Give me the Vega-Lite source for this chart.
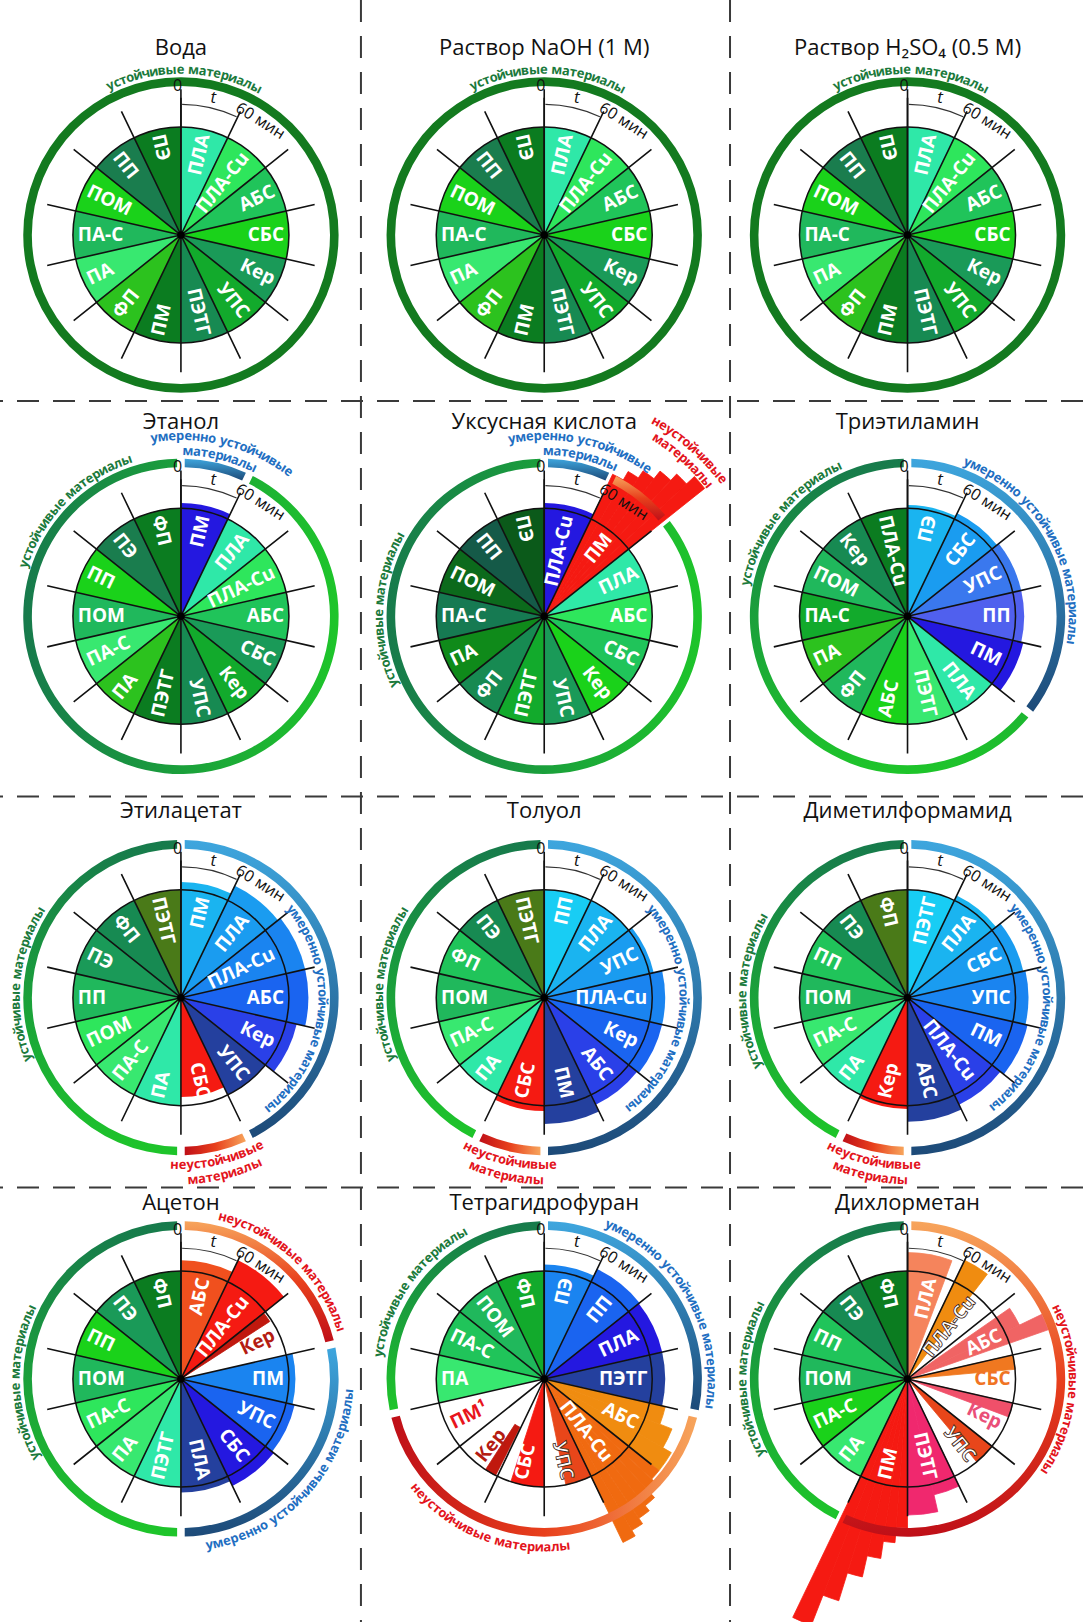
{
"$schema":"https://vega.github.io/schema/vega-lite/v6.json",
"width":1083,"height":1622,"autosize":{"type":"none"},"padding":0,"background":"#ffffff",
"config":{"view":{"stroke":null},"font":"Open Sans"},
"datasets":{
"panels":[
{"p":1,"name":"Вода","col":0,"row":0},
{"p":2,"name":"Раствор NaOH (1 M)","col":1,"row":0},
{"p":3,"name":"Раствор H₂SO₄ (0.5 M)","col":2,"row":0},
{"p":4,"name":"Этанол","col":0,"row":1},
{"p":5,"name":"Уксусная кислота","col":1,"row":1},
{"p":6,"name":"Триэтиламин","col":2,"row":1},
{"p":7,"name":"Этилацетат","col":0,"row":2},
{"p":8,"name":"Толуол","col":1,"row":2},
{"p":9,"name":"Диметилформамид","col":2,"row":2},
{"p":10,"name":"Ацетон","col":0,"row":3},
{"p":11,"name":"Тетрагидрофуран","col":1,"row":3},
{"p":12,"name":"Дихлорметан","col":2,"row":3}],
"seps":[{"d":"v","col":0.4955},{"d":"v","col":1.5114},{"d":"h","row":0.4353},{"d":"h","row":1.4725},{"d":"h","row":2.4978}],
"S":[
{"p":1,"i":0,"m":"ПЛА","c":"aq","r":1},{"p":1,"i":1,"m":"ПЛА-Cu","c":"lg","r":1},{"p":1,"i":2,"m":"АБС","c":"mg","r":1},{"p":1,"i":3,"m":"СБС","c":"pg","r":1},{"p":1,"i":4,"m":"Кер","c":"tg","r":1},{"p":1,"i":5,"m":"УПС","c":"gg","r":1},{"p":1,"i":6,"m":"ПЭТГ","c":"tk","r":1},{"p":1,"i":7,"m":"ПМ","c":"dg","r":1},{"p":1,"i":8,"m":"ФП","c":"lm","r":1},{"p":1,"i":9,"m":"ПА","c":"lt","r":1},{"p":1,"i":10,"m":"ПА-С","c":"pc","r":1},{"p":1,"i":11,"m":"ПОМ","c":"pg","r":1},{"p":1,"i":12,"m":"ПП","c":"dt","r":1},{"p":1,"i":13,"m":"ПЭ","c":"dg","r":1},
{"p":2,"i":0,"m":"ПЛА","c":"aq","r":1},{"p":2,"i":1,"m":"ПЛА-Cu","c":"lg","r":1},{"p":2,"i":2,"m":"АБС","c":"mg","r":1},{"p":2,"i":3,"m":"СБС","c":"pg","r":1},{"p":2,"i":4,"m":"Кер","c":"tg","r":1},{"p":2,"i":5,"m":"УПС","c":"gg","r":1},{"p":2,"i":6,"m":"ПЭТГ","c":"tk","r":1},{"p":2,"i":7,"m":"ПМ","c":"dg","r":1},{"p":2,"i":8,"m":"ФП","c":"lm","r":1},{"p":2,"i":9,"m":"ПА","c":"lt","r":1},{"p":2,"i":10,"m":"ПА-С","c":"pc","r":1},{"p":2,"i":11,"m":"ПОМ","c":"pg","r":1},{"p":2,"i":12,"m":"ПП","c":"dt","r":1},{"p":2,"i":13,"m":"ПЭ","c":"dg","r":1},
{"p":3,"i":0,"m":"ПЛА","c":"aq","r":1},{"p":3,"i":1,"m":"ПЛА-Cu","c":"lg","r":1},{"p":3,"i":2,"m":"АБС","c":"mg","r":1},{"p":3,"i":3,"m":"СБС","c":"pg","r":1},{"p":3,"i":4,"m":"Кер","c":"tg","r":1},{"p":3,"i":5,"m":"УПС","c":"gg","r":1},{"p":3,"i":6,"m":"ПЭТГ","c":"tk","r":1},{"p":3,"i":7,"m":"ПМ","c":"dg","r":1},{"p":3,"i":8,"m":"ФП","c":"lm","r":1},{"p":3,"i":9,"m":"ПА","c":"lt","r":1},{"p":3,"i":10,"m":"ПА-С","c":"pc","r":1},{"p":3,"i":11,"m":"ПОМ","c":"pg","r":1},{"p":3,"i":12,"m":"ПП","c":"dt","r":1},{"p":3,"i":13,"m":"ПЭ","c":"dg","r":1},
{"p":4,"i":0,"m":"ПМ","c":"b8","r":1.05},{"p":4,"i":1,"m":"ПЛА","c":"aq","r":1},{"p":4,"i":2,"m":"ПЛА-Cu","c":"lg","r":1},{"p":4,"i":3,"m":"АБС","c":"mg","r":1},{"p":4,"i":4,"m":"СБС","c":"tg","r":1},{"p":4,"i":5,"m":"Кер","c":"gg","r":1},{"p":4,"i":6,"m":"УПС","c":"tk","r":1},{"p":4,"i":7,"m":"ПЭТГ","c":"dg","r":1},{"p":4,"i":8,"m":"ПА","c":"lm","r":1},{"p":4,"i":9,"m":"ПА-С","c":"lt","r":1},{"p":4,"i":10,"m":"ПОМ","c":"pc","r":1},{"p":4,"i":11,"m":"ПП","c":"pg","r":1},{"p":4,"i":12,"m":"ПЭ","c":"dt","r":1},{"p":4,"i":13,"m":"ФП","c":"dg","r":1},
{"p":5,"i":0,"m":"ПЛА-Cu","c":"b8","r":1.05},{"p":5,"i":1,"m":"ПМ","c":"r1","r":0},{"p":5,"i":2,"m":"ПЛА","c":"aq","r":1},{"p":5,"i":3,"m":"АБС","c":"lg","r":1},{"p":5,"i":4,"m":"СБС","c":"mg","r":1},{"p":5,"i":5,"m":"Кер","c":"pg","r":1},{"p":5,"i":6,"m":"УПС","c":"tg","r":1},{"p":5,"i":7,"m":"ПЭТГ","c":"gg","r":1},{"p":5,"i":8,"m":"ФП","c":"tk","r":1},{"p":5,"i":9,"m":"ПА","c":"u1","r":1},{"p":5,"i":10,"m":"ПА-С","c":"u2","r":1},{"p":5,"i":11,"m":"ПОМ","c":"u3","r":1},{"p":5,"i":12,"m":"ПП","c":"u4","r":1},{"p":5,"i":13,"m":"ПЭ","c":"u5","r":1},
{"p":6,"i":0,"m":"ПЭ","c":"b2","r":1.03},{"p":6,"i":1,"m":"СБС","c":"b3","r":1.06},{"p":6,"i":2,"m":"УПС","c":"b9","r":1.08},{"p":6,"i":3,"m":"ПП","c":"b10","r":1.08},{"p":6,"i":4,"m":"ПМ","c":"b8","r":1.1},{"p":6,"i":5,"m":"ПЛА","c":"aq","r":1},{"p":6,"i":6,"m":"ПЭТГ","c":"lt","r":1},{"p":6,"i":7,"m":"АБС","c":"pg","r":1},{"p":6,"i":8,"m":"ФП","c":"pc","r":1},{"p":6,"i":9,"m":"ПА","c":"lm","r":1},{"p":6,"i":10,"m":"ПА-С","c":"gg","r":1},{"p":6,"i":11,"m":"ПОМ","c":"pc","r":1},{"p":6,"i":12,"m":"Кер","c":"tk","r":1},{"p":6,"i":13,"m":"ПЛА-Cu","c":"dg","r":1},
{"p":7,"i":0,"m":"ПМ","c":"b2","r":1.07},{"p":7,"i":1,"m":"ПЛА","c":"b3","r":1.15},{"p":7,"i":2,"m":"ПЛА-Cu","c":"b4","r":1.18},{"p":7,"i":3,"m":"АБС","c":"b5","r":1.18},{"p":7,"i":4,"m":"Кер","c":"b6","r":1.1},{"p":7,"i":5,"m":"УПС","c":"b7","r":1.0},{"p":7,"i":6,"m":"СБС","c":"r1","r":0.92},{"p":7,"i":7,"m":"ПА","c":"aq","r":1},{"p":7,"i":8,"m":"ПА-С","c":"lt","r":1},{"p":7,"i":9,"m":"ПОМ","c":"lg","r":1},{"p":7,"i":10,"m":"ПП","c":"pc","r":1},{"p":7,"i":11,"m":"ПЭ","c":"tg","r":1},{"p":7,"i":12,"m":"ФП","c":"tk","r":1},{"p":7,"i":13,"m":"ПЭТГ","c":"ol","r":1},
{"p":8,"i":0,"m":"ПП","c":"b1","r":1.0},{"p":8,"i":1,"m":"ПЛА","c":"b2","r":1.0},{"p":8,"i":2,"m":"УПС","c":"b3","r":1.04},{"p":8,"i":3,"m":"ПЛА-Cu","c":"b4","r":1.12},{"p":8,"i":4,"m":"Кер","c":"b5","r":1.12},{"p":8,"i":5,"m":"АБС","c":"b6","r":1.1},{"p":8,"i":6,"m":"ПМ","c":"b7","r":1.17},{"p":8,"i":7,"m":"СБС","c":"r1","r":1.05},{"p":8,"i":8,"m":"ПА","c":"aq","r":1},{"p":8,"i":9,"m":"ПА-С","c":"lt","r":1},{"p":8,"i":10,"m":"ПОМ","c":"pc","r":1},{"p":8,"i":11,"m":"ФП","c":"mg","r":1},{"p":8,"i":12,"m":"ПЭ","c":"tk","r":1},{"p":8,"i":13,"m":"ПЭТГ","c":"ol","r":1},
{"p":9,"i":0,"m":"ПЭТГ","c":"b1","r":1.0},{"p":9,"i":1,"m":"ПЛА","c":"b2","r":1.05},{"p":9,"i":2,"m":"СБС","c":"b3","r":1.1},{"p":9,"i":3,"m":"УПС","c":"b4","r":1.12},{"p":9,"i":4,"m":"ПМ","c":"b5","r":1.14},{"p":9,"i":5,"m":"ПЛА-Cu","c":"b6","r":1.1},{"p":9,"i":6,"m":"АБС","c":"b7","r":1.15},{"p":9,"i":7,"m":"Кер","c":"r1","r":1.03},{"p":9,"i":8,"m":"ПА","c":"aq","r":1},{"p":9,"i":9,"m":"ПА-С","c":"lt","r":1},{"p":9,"i":10,"m":"ПОМ","c":"pc","r":1},{"p":9,"i":11,"m":"ПП","c":"mg","r":1},{"p":9,"i":12,"m":"ПЭ","c":"tk","r":1},{"p":9,"i":13,"m":"ФП","c":"ol","r":1},
{"p":10,"i":0,"m":"АБС","c":"o1","r":1.1},{"p":10,"i":1,"m":"ПЛА-Cu","c":"r1","r":1.22},{"p":10,"i":2,"m":"Кер","c":"r3","r":0,"lc":"dr"},{"p":10,"i":3,"m":"ПМ","c":"b4","r":1.06},{"p":10,"i":4,"m":"УПС","c":"b5","r":1.08},{"p":10,"i":5,"m":"СБС","c":"b8","r":1.1},{"p":10,"i":6,"m":"ПЛА","c":"b7","r":1.05},{"p":10,"i":7,"m":"ПЭТГ","c":"aq","r":1},{"p":10,"i":8,"m":"ПА","c":"lt","r":1},{"p":10,"i":9,"m":"ПА-С","c":"lg","r":1},{"p":10,"i":10,"m":"ПОМ","c":"pc","r":1},{"p":10,"i":11,"m":"ПП","c":"pg","r":1},{"p":10,"i":12,"m":"ПЭ","c":"tg","r":1},{"p":10,"i":13,"m":"ФП","c":"dg","r":1},
{"p":11,"i":0,"m":"ПЭ","c":"b4","r":1.06},{"p":11,"i":1,"m":"ПП","c":"b5","r":1.13},{"p":11,"i":2,"m":"ПЛА","c":"b8","r":1.12},{"p":11,"i":3,"m":"ПЭТГ","c":"b7","r":1.12},{"p":11,"i":4,"m":"АБС","c":"o3","r":0},{"p":11,"i":5,"m":"ПЛА-Cu","c":"o4","r":0},{"p":11,"i":6,"m":"УПС","c":"o5","r":0,"lc":"ol"},{"p":11,"i":7,"m":"СБС","c":"r1","r":0},{"p":11,"i":8,"m":"Кер","c":"r3","r":0,"lc":"dr"},{"p":11,"i":9,"m":"ПМ¹","c":"r1","r":0,"lc":"r"},{"p":11,"i":10,"m":"ПА","c":"lt","r":1},{"p":11,"i":11,"m":"ПА-С","c":"mg","r":1},{"p":11,"i":12,"m":"ПОМ","c":"pc","r":1},{"p":11,"i":13,"m":"ФП","c":"gg","r":1},
{"p":12,"i":0,"m":"ПЛА","c":"sa","r":0},{"p":12,"i":1,"m":"ПЛА-Cu","c":"o3","r":0,"lc":"ol"},{"p":12,"i":2,"m":"АБС","c":"co","r":0},{"p":12,"i":3,"m":"СБС","c":"o6","r":0,"lc":"o"},{"p":12,"i":4,"m":"Кер","c":"pk","r":0,"lc":"pk"},{"p":12,"i":5,"m":"УПС","c":"o5","r":0,"lc":"ol"},{"p":12,"i":6,"m":"ПЭТГ","c":"mg2","r":0},{"p":12,"i":7,"m":"ПМ","c":"r1","r":0},{"p":12,"i":8,"m":"ПА","c":"lt","r":1},{"p":12,"i":9,"m":"ПА-С","c":"pg","r":1},{"p":12,"i":10,"m":"ПОМ","c":"pc","r":1},{"p":12,"i":11,"m":"ПП","c":"mg","r":1},{"p":12,"i":12,"m":"ПЭ","c":"tk","r":1},{"p":12,"i":13,"m":"ФП","c":"dg","r":1}],
"pieces":[
{"p":5,"a":1,"b":1.17,"r":1.46,"c":"r1"},{"p":5,"a":1.17,"b":1.33,"r":1.55,"c":"r1"},{"p":5,"a":1.33,"b":1.5,"r":1.63,"c":"r1"},{"p":5,"a":1.5,"b":1.67,"r":1.72,"c":"r1"},{"p":5,"a":1.67,"b":1.83,"r":1.8,"c":"r1"},{"p":5,"a":1.83,"b":2,"r":1.9,"c":"r1"},
{"p":10,"a":2,"b":2.22,"r":0.98,"c":"r3"},
{"p":11,"a":4,"b":4.33,"r":1.15,"c":"o3"},{"p":11,"a":4.33,"b":4.67,"r":1.27,"c":"o3"},{"p":11,"a":4.67,"b":5,"r":1.36,"c":"o3"},
{"p":11,"a":5,"b":5.17,"r":1.36,"c":"o4"},{"p":11,"a":5.17,"b":5.33,"r":1.43,"c":"o4"},{"p":11,"a":5.33,"b":5.5,"r":1.5,"c":"o4"},{"p":11,"a":5.5,"b":5.67,"r":1.56,"c":"o4"},{"p":11,"a":5.67,"b":5.83,"r":1.62,"c":"o4"},{"p":11,"a":5.83,"b":6,"r":1.68,"c":"o4"},
{"p":11,"a":6,"b":6.55,"r":1.0,"c":"o5"},{"p":11,"a":7,"b":7.7,"r":1.0,"c":"r1"},{"p":11,"a":8.04,"b":8.28,"r":1.0,"r0":0.5,"c":"r3"},
{"p":12,"a":0,"b":0.8,"r":1.17,"c":"sa"},{"p":12,"a":1,"b":1.45,"r":1.22,"c":"o3"},{"p":12,"a":2.15,"b":2.5,"r":1.15,"c":"co"},{"p":12,"a":2.5,"b":2.75,"r":1.38,"c":"co"},
{"p":12,"a":3,"b":3.3,"r":1.0,"c":"o6"},{"p":12,"a":4,"b":4.3,"r":1.0,"c":"pk"},{"p":12,"a":5,"b":5.45,"r":1.0,"c":"o5"},
{"p":12,"a":6,"b":6.5,"r":1.1,"c":"mg2"},{"p":12,"a":6.5,"b":7,"r":1.26,"c":"mg2"},
{"p":12,"a":7,"b":7.17,"r":1.38,"c":"r1"},{"p":12,"a":7.17,"b":7.33,"r":1.52,"c":"r1"},{"p":12,"a":7.33,"b":7.5,"r":1.68,"c":"r1"},{"p":12,"a":7.5,"b":7.67,"r":1.88,"c":"r1"},{"p":12,"a":7.67,"b":7.83,"r":2.15,"c":"r1"},{"p":12,"a":7.83,"b":8,"r":2.45,"c":"r1"}],
"rings":[
{"p":1,"a":0,"b":14,"g":"s0"},{"p":2,"a":0,"b":14,"g":"s0"},{"p":3,"a":0,"b":14,"g":"s0"},
{"p":4,"a":0,"b":1,"g":"m"},{"p":4,"a":1,"b":14,"g":"s"},
{"p":5,"a":0,"b":1,"g":"m"},{"p":5,"a":1,"b":2,"g":"u"},{"p":5,"a":2,"b":14,"g":"s"},
{"p":6,"a":0,"b":5,"g":"m"},{"p":6,"a":5,"b":14,"g":"s"},
{"p":7,"a":0,"b":6,"g":"m"},{"p":7,"a":6,"b":7,"g":"u"},{"p":7,"a":7,"b":14,"g":"s"},
{"p":8,"a":0,"b":7,"g":"m"},{"p":8,"a":7,"b":8,"g":"u"},{"p":8,"a":8,"b":14,"g":"s"},
{"p":9,"a":0,"b":7,"g":"m"},{"p":9,"a":7,"b":8,"g":"u"},{"p":9,"a":8,"b":14,"g":"s"},
{"p":10,"a":0,"b":3,"g":"u"},{"p":10,"a":3,"b":7,"g":"m"},{"p":10,"a":7,"b":14,"g":"s"},
{"p":11,"a":0,"b":4,"g":"m"},{"p":11,"a":4,"b":10,"g":"u"},{"p":11,"a":10,"b":14,"g":"s"},
{"p":12,"a":0,"b":8,"g":"u"},{"p":12,"a":8,"b":14,"g":"s"}],
"labs":[
{"p":1,"t":"устойчивые материалы","th":0.05,"r":1.53,"s":"cw","g":"s"},
{"p":2,"t":"устойчивые материалы","th":0.05,"r":1.53,"s":"cw","g":"s"},
{"p":3,"t":"устойчивые материалы","th":0.05,"r":1.53,"s":"cw","g":"s"},
{"p":4,"t":"устойчивые материалы","th":12.25,"r":1.53,"s":"cw","g":"s"},
{"p":4,"t":"умеренно устойчивые","th":0.55,"r":1.67,"s":"cw","g":"m"},
{"p":4,"t":"материалы","th":0.54,"r":1.53,"s":"cw","g":"m"},
{"p":5,"t":"устойчивые материалы","th":10.6,"r":1.53,"s":"cw","g":"s"},
{"p":5,"t":"умеренно устойчивые","th":0.48,"r":1.67,"s":"cw","g":"m"},
{"p":5,"t":"материалы","th":0.5,"r":1.53,"s":"cw","g":"m"},
{"p":5,"t":"неустойчивые","th":1.6,"r":2.08,"s":"cw","g":"u"},
{"p":5,"t":"материалы","th":1.62,"r":1.95,"s":"cw","g":"u"},
{"p":6,"t":"устойчивые материалы","th":12.0,"r":1.53,"s":"cw","g":"s"},
{"p":6,"t":"умеренно устойчивые материалы","th":2.33,"r":1.53,"s":"cw","g":"m"},
{"p":7,"t":"устойчивые материалы","th":10.7,"r":1.53,"s":"cw","g":"s"},
{"p":7,"t":"умеренно устойчивые материалы","th":3.75,"r":1.31,"s":"cw","g":"m"},
{"p":7,"t":"неустойчивые","th":6.5,"r":1.55,"s":"ccw","g":"u"},
{"p":7,"t":"материалы","th":6.45,"r":1.69,"s":"ccw","g":"u"},
{"p":8,"t":"устойчивые материалы","th":10.7,"r":1.53,"s":"cw","g":"s"},
{"p":8,"t":"умеренно устойчивые материалы","th":3.75,"r":1.29,"s":"cw","g":"m"},
{"p":8,"t":"неустойчивые","th":7.47,"r":1.55,"s":"ccw","g":"u"},
{"p":8,"t":"материалы","th":7.47,"r":1.69,"s":"ccw","g":"u"},
{"p":9,"t":"устойчивые материалы","th":10.6,"r":1.53,"s":"cw","g":"s"},
{"p":9,"t":"умеренно устойчивые материалы","th":3.73,"r":1.29,"s":"cw","g":"m"},
{"p":9,"t":"неустойчивые","th":7.46,"r":1.55,"s":"ccw","g":"u"},
{"p":9,"t":"материалы","th":7.46,"r":1.69,"s":"ccw","g":"u"},
{"p":10,"t":"устойчивые материалы","th":10.45,"r":1.53,"s":"cw","g":"s"},
{"p":10,"t":"неустойчивые материалы","th":1.68,"r":1.55,"s":"cw","g":"u"},
{"p":10,"t":"умеренно устойчивые материалы","th":5.15,"r":1.56,"s":"ccw","g":"m"},
{"p":11,"t":"устойчивые материалы","th":11.86,"r":1.55,"s":"cw","g":"s"},
{"p":11,"t":"умеренно устойчивые материалы","th":2.37,"r":1.55,"s":"cw","g":"m"},
{"p":11,"t":"неустойчивые материалы","th":7.82,"r":1.56,"s":"ccw","g":"u"},
{"p":12,"t":"устойчивые материалы","th":10.5,"r":1.53,"s":"cw","g":"s"},
{"p":12,"t":"неустойчивые материалы","th":3.66,"r":1.53,"s":"cw","g":"u"}]
},
"resolve":{"scale":{"color":"independent","stroke":"independent"}},
"layer":[
{"data":{"name":"seps"},"transform":[{"filter":"datum.d=='v'"}],"mark":{"type":"rule","strokeDash":[22,14],"strokeWidth":2,"color":"#3a3a3a"},
 "encoding":{"x":{"field":"col","type":"quantitative","scale":{"domain":[-0.498,2.483],"nice":false,"zero":false},"axis":null}}},
{"data":{"name":"seps"},"transform":[{"filter":"datum.d=='h'"}],"mark":{"type":"rule","strokeDash":[22,14],"strokeWidth":2,"color":"#3a3a3a"},
 "encoding":{"y":{"field":"row","type":"quantitative","scale":{"domain":[-0.6163,3.6373],"nice":false,"zero":false,"reverse":true},"axis":null}}},
{"data":{"name":"S"},"transform":[{"lookup":"p","from":{"data":{"name":"panels"},"key":"p","fields":["col","row"]}},{"filter":"datum.r>0"},{"calculate":"datum.i+1","as":"i1"}],
 "mark":{"type":"arc"},
 "encoding":{
  "x":{"field":"col","type":"quantitative","scale":{"domain":[-0.498,2.483],"nice":false,"zero":false},"axis":null},
  "y":{"field":"row","type":"quantitative","scale":{"domain":[-0.6163,3.6373],"nice":false,"zero":false,"reverse":true},"axis":null},
  "theta":{"field":"i","type":"quantitative","stack":null,"scale":{"domain":[0,14],"range":[0,6.283185307179586]}},
  "theta2":{"field":"i1"},
  "radius":{"field":"r","type":"quantitative","scale":{"type":"linear","domain":[0,1],"range":[0,108]}},
  "color":{"field":"c","type":"nominal","legend":null,"scale":{"domain":["aq","lg","mg","pg","tg","gg","tk","dg","lm","lt","pc","dt","u1","u2","u3","u4","u5","ol","b1","b2","b3","b4","b5","b6","b7","b8","b9","b10","r1","r3","o1","o3","o4","o5","o6","sa","co","pk","mg2"],"range":["#2fe8a8","#2ee65c","#20c45a","#1ad21a","#1a9a58","#12aa2c","#178a52","#0b7c20","#2cc21e","#38e870","#20b85c","#1a7d4e","#0f8a1a","#167a52","#0c6a1c","#155a48","#0b5a1a","#4a7a18","#18cdf4","#1ab4f0","#1a9cf0","#1a84f0","#1a64f0","#2a40e8","#24409e","#2418e0","#3a78ee","#5060ee","#f51a12","#c0180e","#f0501e","#f08c10","#f06a10","#e8461a","#f07820","#f5845c","#f06464","#f0506a","#f0286e"]}}}},
{"data":{"name":"pieces"},"transform":[{"lookup":"p","from":{"data":{"name":"panels"},"key":"p","fields":["col","row"]}},{"calculate":"datum.r0 ? datum.r0 : 0","as":"r0z"}],
 "mark":{"type":"arc","strokeWidth":0.8},
 "encoding":{
  "x":{"field":"col","type":"quantitative","scale":{"domain":[-0.498,2.483],"nice":false,"zero":false},"axis":null},
  "y":{"field":"row","type":"quantitative","scale":{"domain":[-0.6163,3.6373],"nice":false,"zero":false,"reverse":true},"axis":null},
  "theta":{"field":"a","type":"quantitative","stack":null,"scale":{"domain":[0,14],"range":[0,6.283185307179586]}},
  "theta2":{"field":"b"},
  "radius":{"field":"r","type":"quantitative","scale":{"type":"linear","domain":[0,1],"range":[0,108]}},
  "radius2":{"field":"r0z"},
  "color":{"field":"c","type":"nominal","legend":null,"scale":{"domain":["aq","lg","mg","pg","tg","gg","tk","dg","lm","lt","pc","dt","u1","u2","u3","u4","u5","ol","b1","b2","b3","b4","b5","b6","b7","b8","b9","b10","r1","r3","o1","o3","o4","o5","o6","sa","co","pk","mg2"],"range":["#2fe8a8","#2ee65c","#20c45a","#1ad21a","#1a9a58","#12aa2c","#178a52","#0b7c20","#2cc21e","#38e870","#20b85c","#1a7d4e","#0f8a1a","#167a52","#0c6a1c","#155a48","#0b5a1a","#4a7a18","#18cdf4","#1ab4f0","#1a9cf0","#1a84f0","#1a64f0","#2a40e8","#24409e","#2418e0","#3a78ee","#5060ee","#f51a12","#c0180e","#f0501e","#f08c10","#f06a10","#e8461a","#f07820","#f5845c","#f06464","#f0506a","#f0286e"]}},
  "stroke":{"field":"c","type":"nominal","legend":null,"scale":{"domain":["aq","lg","mg","pg","tg","gg","tk","dg","lm","lt","pc","dt","u1","u2","u3","u4","u5","ol","b1","b2","b3","b4","b5","b6","b7","b8","b9","b10","r1","r3","o1","o3","o4","o5","o6","sa","co","pk","mg2"],"range":["#2fe8a8","#2ee65c","#20c45a","#1ad21a","#1a9a58","#12aa2c","#178a52","#0b7c20","#2cc21e","#38e870","#20b85c","#1a7d4e","#0f8a1a","#167a52","#0c6a1c","#155a48","#0b5a1a","#4a7a18","#18cdf4","#1ab4f0","#1a9cf0","#1a84f0","#1a64f0","#2a40e8","#24409e","#2418e0","#3a78ee","#5060ee","#f51a12","#c0180e","#f0501e","#f08c10","#f06a10","#e8461a","#f07820","#f5845c","#f06464","#f0506a","#f0286e"]}}}},
{"data":{"name":"rings"},"transform":[{"lookup":"p","from":{"data":{"name":"panels"},"key":"p","fields":["col","row"]}},{"filter":"datum.g=='s0'"}],
 "mark":{"type":"arc","color":"#137a1f"},
 "encoding":{
  "x":{"field":"col","type":"quantitative","scale":{"domain":[-0.498,2.483],"nice":false,"zero":false},"axis":null},
  "y":{"field":"row","type":"quantitative","scale":{"domain":[-0.6163,3.6373],"nice":false,"zero":false,"reverse":true},"axis":null},
  "theta":{"field":"a","type":"quantitative","stack":null,"scale":{"domain":[0,14],"range":[0,6.283185307179586]}},"theta2":{"field":"b"},
  "radius":{"datum":1.46,"type":"quantitative","scale":{"type":"linear","domain":[0,1],"range":[0,108]}},"radius2":{"datum":1.38}}},
{"data":{"name":"rings"},"transform":[{"lookup":"p","from":{"data":{"name":"panels"},"key":"p","fields":["col","row"]}},{"filter":"datum.g=='s' && (datum.p==4 || datum.p==5)"}],
 "mark":{"type":"arc","padAngle":0.035,"color":{"gradient":"linear","x1":0,"y1":0.5,"x2":1,"y2":0.5,"stops":[{"offset":0,"color":"#177a4c"},{"offset":1,"color":"#1ec52a"}]}},
 "encoding":{
  "x":{"field":"col","type":"quantitative","scale":{"domain":[-0.498,2.483],"nice":false,"zero":false},"axis":null},
  "y":{"field":"row","type":"quantitative","scale":{"domain":[-0.6163,3.6373],"nice":false,"zero":false,"reverse":true},"axis":null},
  "theta":{"field":"a","type":"quantitative","stack":null,"scale":{"domain":[0,14],"range":[0,6.283185307179586]}},"theta2":{"field":"b"},
  "radius":{"datum":1.46,"type":"quantitative","scale":{"type":"linear","domain":[0,1],"range":[0,108]}},"radius2":{"datum":1.38}}},
{"data":{"name":"rings"},"transform":[{"lookup":"p","from":{"data":{"name":"panels"},"key":"p","fields":["col","row"]}},{"filter":"datum.g=='s' && datum.p>5"}],
 "mark":{"type":"arc","padAngle":0.035,"color":{"gradient":"linear","x1":0.5,"y1":0,"x2":0.5,"y2":1,"stops":[{"offset":0,"color":"#177a4c"},{"offset":1,"color":"#1ec52a"}]}},
 "encoding":{
  "x":{"field":"col","type":"quantitative","scale":{"domain":[-0.498,2.483],"nice":false,"zero":false},"axis":null},
  "y":{"field":"row","type":"quantitative","scale":{"domain":[-0.6163,3.6373],"nice":false,"zero":false,"reverse":true},"axis":null},
  "theta":{"field":"a","type":"quantitative","stack":null,"scale":{"domain":[0,14],"range":[0,6.283185307179586]}},"theta2":{"field":"b"},
  "radius":{"datum":1.46,"type":"quantitative","scale":{"type":"linear","domain":[0,1],"range":[0,108]}},"radius2":{"datum":1.38}}},
{"data":{"name":"rings"},"transform":[{"lookup":"p","from":{"data":{"name":"panels"},"key":"p","fields":["col","row"]}},{"filter":"datum.g=='m'"}],
 "mark":{"type":"arc","padAngle":0.035,"color":{"gradient":"linear","x1":0.5,"y1":0,"x2":0.5,"y2":1,"stops":[{"offset":0,"color":"#3ea6de"},{"offset":1,"color":"#1d4a78"}]}},
 "encoding":{
  "x":{"field":"col","type":"quantitative","scale":{"domain":[-0.498,2.483],"nice":false,"zero":false},"axis":null},
  "y":{"field":"row","type":"quantitative","scale":{"domain":[-0.6163,3.6373],"nice":false,"zero":false,"reverse":true},"axis":null},
  "theta":{"field":"a","type":"quantitative","stack":null,"scale":{"domain":[0,14],"range":[0,6.283185307179586]}},"theta2":{"field":"b"},
  "radius":{"datum":1.46,"type":"quantitative","scale":{"type":"linear","domain":[0,1],"range":[0,108]}},"radius2":{"datum":1.38}}},
{"data":{"name":"rings"},"transform":[{"lookup":"p","from":{"data":{"name":"panels"},"key":"p","fields":["col","row"]}},{"filter":"datum.g=='u' && (datum.p==5 || datum.p==10 || datum.p==12)"}],
 "mark":{"type":"arc","padAngle":0.035,"color":{"gradient":"linear","x1":0.5,"y1":0,"x2":0.5,"y2":1,"stops":[{"offset":0,"color":"#f7a55c"},{"offset":0.5,"color":"#e8401c"},{"offset":1,"color":"#bf0f18"}]}},
 "encoding":{
  "x":{"field":"col","type":"quantitative","scale":{"domain":[-0.498,2.483],"nice":false,"zero":false},"axis":null},
  "y":{"field":"row","type":"quantitative","scale":{"domain":[-0.6163,3.6373],"nice":false,"zero":false,"reverse":true},"axis":null},
  "theta":{"field":"a","type":"quantitative","stack":null,"scale":{"domain":[0,14],"range":[0,6.283185307179586]}},"theta2":{"field":"b"},
  "radius":{"datum":1.46,"type":"quantitative","scale":{"type":"linear","domain":[0,1],"range":[0,108]}},"radius2":{"datum":1.38}}},
{"data":{"name":"rings"},"transform":[{"lookup":"p","from":{"data":{"name":"panels"},"key":"p","fields":["col","row"]}},{"filter":"datum.g=='u' && (datum.p==7 || datum.p==8 || datum.p==9 || datum.p==11)"}],
 "mark":{"type":"arc","padAngle":0.035,"color":{"gradient":"linear","x1":0,"y1":0.5,"x2":1,"y2":0.5,"stops":[{"offset":0,"color":"#bf0f18"},{"offset":0.5,"color":"#e8401c"},{"offset":1,"color":"#f7a55c"}]}},
 "encoding":{
  "x":{"field":"col","type":"quantitative","scale":{"domain":[-0.498,2.483],"nice":false,"zero":false},"axis":null},
  "y":{"field":"row","type":"quantitative","scale":{"domain":[-0.6163,3.6373],"nice":false,"zero":false,"reverse":true},"axis":null},
  "theta":{"field":"a","type":"quantitative","stack":null,"scale":{"domain":[0,14],"range":[0,6.283185307179586]}},"theta2":{"field":"b"},
  "radius":{"datum":1.46,"type":"quantitative","scale":{"type":"linear","domain":[0,1],"range":[0,108]}},"radius2":{"datum":1.38}}},
{"data":{"name":"panels"},"mark":{"type":"arc","color":"#111111"},
 "encoding":{
  "x":{"field":"col","type":"quantitative","scale":{"domain":[-0.498,2.483],"nice":false,"zero":false},"axis":null},
  "y":{"field":"row","type":"quantitative","scale":{"domain":[-0.6163,3.6373],"nice":false,"zero":false,"reverse":true},"axis":null},
  "theta":{"datum":0,"type":"quantitative","scale":{"domain":[0,14],"range":[0,6.283185307179586]}},"theta2":{"datum":14},
  "radius":{"datum":1.007,"type":"quantitative","scale":{"type":"linear","domain":[0,1],"range":[0,108]}},"radius2":{"datum":0.993}}},
{"data":{"name":"S"},"transform":[{"lookup":"p","from":{"data":{"name":"panels"},"key":"p","fields":["col","row"]}}],
 "mark":{"type":"arc","filled":false,"color":"#111111","strokeWidth":1.6},
 "encoding":{
  "x":{"field":"col","type":"quantitative","scale":{"domain":[-0.498,2.483],"nice":false,"zero":false},"axis":null},
  "y":{"field":"row","type":"quantitative","scale":{"domain":[-0.6163,3.6373],"nice":false,"zero":false,"reverse":true},"axis":null},
  "theta":{"field":"i","type":"quantitative","stack":null,"scale":{"domain":[0,14],"range":[0,6.283185307179586]}},"theta2":{"field":"i"},
  "radius":{"datum":1.27,"type":"quantitative","scale":{"type":"linear","domain":[0,1],"range":[0,108]}}}},
{"data":{"name":"panels"},"mark":{"type":"arc","filled":false,"color":"#111111","strokeWidth":1.6},
 "encoding":{
  "x":{"field":"col","type":"quantitative","scale":{"domain":[-0.498,2.483],"nice":false,"zero":false},"axis":null},
  "y":{"field":"row","type":"quantitative","scale":{"domain":[-0.6163,3.6373],"nice":false,"zero":false,"reverse":true},"axis":null},
  "theta":{"datum":0,"type":"quantitative","scale":{"domain":[0,14],"range":[0,6.283185307179586]}},"theta2":{"datum":0},
  "radius":{"datum":1.35,"type":"quantitative","scale":{"type":"linear","domain":[0,1],"range":[0,108]}}}},
{"data":{"name":"panels"},"mark":{"type":"arc","color":"#333333"},
 "encoding":{
  "x":{"field":"col","type":"quantitative","scale":{"domain":[-0.498,2.483],"nice":false,"zero":false},"axis":null},
  "y":{"field":"row","type":"quantitative","scale":{"domain":[-0.6163,3.6373],"nice":false,"zero":false,"reverse":true},"axis":null},
  "theta":{"datum":0.02,"type":"quantitative","scale":{"domain":[0,14],"range":[0,6.283185307179586]}},"theta2":{"datum":0.98},
  "radius":{"datum":1.216,"type":"quantitative","scale":{"type":"linear","domain":[0,1],"range":[0,108]}},"radius2":{"datum":1.205}}},
{"data":{"name":"panels"},"mark":{"type":"arc","color":"#000000"},
 "encoding":{
  "x":{"field":"col","type":"quantitative","scale":{"domain":[-0.498,2.483],"nice":false,"zero":false},"axis":null},
  "y":{"field":"row","type":"quantitative","scale":{"domain":[-0.6163,3.6373],"nice":false,"zero":false,"reverse":true},"axis":null},
  "theta":{"datum":0,"type":"quantitative","scale":{"domain":[0,14],"range":[0,6.283185307179586]}},"theta2":{"datum":14},
  "radius":{"datum":0.035,"type":"quantitative","scale":{"type":"linear","domain":[0,1],"range":[0,108]}}}},
{"data":{"name":"S"},"transform":[{"lookup":"p","from":{"data":{"name":"panels"},"key":"p","fields":["col","row"]}},{"filter":"datum.i<7"},{"calculate":"datum.i+0.5","as":"ti"},{"calculate":"(datum.i+0.5)*360/14-90","as":"rot"},{"calculate":"datum.lc ? datum.lc : 'w'","as":"lcol"}],
 "mark":{"type":"text","align":"right","baseline":"middle","fontSize":19,"fontWeight":"bold","strokeWidth":0.8},
 "encoding":{
  "x":{"field":"col","type":"quantitative","scale":{"domain":[-0.498,2.483],"nice":false,"zero":false},"axis":null},
  "y":{"field":"row","type":"quantitative","scale":{"domain":[-0.6163,3.6373],"nice":false,"zero":false,"reverse":true},"axis":null},
  "theta":{"field":"ti","type":"quantitative","stack":null,"scale":{"domain":[0,14],"range":[0,6.283185307179586]}},
  "radius":{"datum":0.955,"type":"quantitative","scale":{"type":"linear","domain":[0,1],"range":[0,108]}},
  "angle":{"field":"rot","type":"quantitative","scale":null},
  "text":{"field":"m"},
  "color":{"field":"lcol","type":"nominal","legend":null,"scale":{"domain":["w","r","dr","o","pk","ol"],"range":["#ffffff","#e8141c","#b41c12","#f07424","#ea4f78","#ffffff"]}},
  "stroke":{"field":"lcol","type":"nominal","legend":null,"scale":{"domain":["w","r","dr","o","pk","ol"],"range":["rgba(0,0,0,0)","rgba(0,0,0,0)","rgba(0,0,0,0)","rgba(0,0,0,0)","rgba(0,0,0,0)","#3a1a10"]}}}},
{"data":{"name":"S"},"transform":[{"lookup":"p","from":{"data":{"name":"panels"},"key":"p","fields":["col","row"]}},{"filter":"datum.i>=7"},{"calculate":"datum.i+0.5","as":"ti"},{"calculate":"(datum.i+0.5)*360/14-270","as":"rot"},{"calculate":"datum.lc ? datum.lc : 'w'","as":"lcol"}],
 "mark":{"type":"text","align":"left","baseline":"middle","fontSize":19,"fontWeight":"bold","strokeWidth":0.8},
 "encoding":{
  "x":{"field":"col","type":"quantitative","scale":{"domain":[-0.498,2.483],"nice":false,"zero":false},"axis":null},
  "y":{"field":"row","type":"quantitative","scale":{"domain":[-0.6163,3.6373],"nice":false,"zero":false,"reverse":true},"axis":null},
  "theta":{"field":"ti","type":"quantitative","stack":null,"scale":{"domain":[0,14],"range":[0,6.283185307179586]}},
  "radius":{"datum":0.955,"type":"quantitative","scale":{"type":"linear","domain":[0,1],"range":[0,108]}},
  "angle":{"field":"rot","type":"quantitative","scale":null},
  "text":{"field":"m"},
  "color":{"field":"lcol","type":"nominal","legend":null,"scale":{"domain":["w","r","dr","o","pk","ol"],"range":["#ffffff","#e8141c","#b41c12","#f07424","#ea4f78","#ffffff"]}},
  "stroke":{"field":"lcol","type":"nominal","legend":null,"scale":{"domain":["w","r","dr","o","pk","ol"],"range":["rgba(0,0,0,0)","rgba(0,0,0,0)","rgba(0,0,0,0)","rgba(0,0,0,0)","rgba(0,0,0,0)","#3a1a10"]}}}},
{"data":{"name":"panels"},"mark":{"type":"text","align":"center","baseline":"middle","fontSize":16,"color":"#111111"},
 "encoding":{
  "x":{"field":"col","type":"quantitative","scale":{"domain":[-0.498,2.483],"nice":false,"zero":false},"axis":null},
  "y":{"field":"row","type":"quantitative","scale":{"domain":[-0.6163,3.6373],"nice":false,"zero":false,"reverse":true},"axis":null},
  "theta":{"datum":-0.05,"type":"quantitative","scale":{"domain":[0,14],"range":[0,6.283185307179586]}},
  "radius":{"datum":1.38,"type":"quantitative","scale":{"type":"linear","domain":[0,1],"range":[0,108]}},
  "text":{"value":"0"}}},
{"data":{"name":"panels"},"mark":{"type":"text","align":"center","baseline":"middle","fontSize":17,"fontStyle":"italic","color":"#111111"},
 "encoding":{
  "x":{"field":"col","type":"quantitative","scale":{"domain":[-0.498,2.483],"nice":false,"zero":false},"axis":null},
  "y":{"field":"row","type":"quantitative","scale":{"domain":[-0.6163,3.6373],"nice":false,"zero":false,"reverse":true},"axis":null},
  "theta":{"datum":0.52,"type":"quantitative","scale":{"domain":[0,14],"range":[0,6.283185307179586]}},
  "radius":{"datum":1.3,"type":"quantitative","scale":{"type":"linear","domain":[0,1],"range":[0,108]}},
  "text":{"value":"t"}}},
{"data":{"name":"panels"},"mark":{"type":"text","align":"left","baseline":"middle","fontSize":16,"angle":32,"color":"#111111"},
 "encoding":{
  "x":{"field":"col","type":"quantitative","scale":{"domain":[-0.498,2.483],"nice":false,"zero":false},"axis":null},
  "y":{"field":"row","type":"quantitative","scale":{"domain":[-0.6163,3.6373],"nice":false,"zero":false,"reverse":true},"axis":null},
  "theta":{"datum":0.92,"type":"quantitative","scale":{"domain":[0,14],"range":[0,6.283185307179586]}},
  "radius":{"datum":1.3,"type":"quantitative","scale":{"type":"linear","domain":[0,1],"range":[0,108]}},
  "text":{"value":"60 мин"}}},
{"data":{"name":"labs"},"transform":[{"lookup":"p","from":{"data":{"name":"panels"},"key":"p","fields":["col","row"]}},
  {"calculate":"split(datum.t,'')","as":"chars"},
  {"flatten":["chars"],"as":["ch"]},
  {"calculate":"13*(datum.ch==' ' ? 0.3 : datum.ch=='м' ? 0.78 : datum.ch=='ы' ? 0.84 : (datum.ch=='с' || datum.ch=='т') ? 0.52 : datum.ch=='у' ? 0.56 : 0.62)","as":"w"},
  {"window":[{"op":"sum","field":"w","as":"cum"}],"groupby":["p","t","th"]},
  {"joinaggregate":[{"op":"sum","field":"w","as":"tw"}],"groupby":["p","t","th"]},
  {"calculate":"datum.th + (datum.s=='cw' ? 1 : -1)*(datum.cum - datum.w/2 - datum.tw/2)*0.020631/datum.r","as":"tc"},
  {"calculate":"datum.s=='cw' ? datum.tc*360/14 : datum.tc*360/14-180","as":"rot"}],
 "mark":{"type":"text","align":"center","baseline":"middle","fontSize":13,"fontWeight":"bold"},
 "encoding":{
  "x":{"field":"col","type":"quantitative","scale":{"domain":[-0.498,2.483],"nice":false,"zero":false},"axis":null},
  "y":{"field":"row","type":"quantitative","scale":{"domain":[-0.6163,3.6373],"nice":false,"zero":false,"reverse":true},"axis":null},
  "theta":{"field":"tc","type":"quantitative","stack":null,"scale":{"domain":[0,14],"range":[0,6.283185307179586]}},
  "radius":{"field":"r","type":"quantitative","scale":{"type":"linear","domain":[0,1],"range":[0,108]}},
  "angle":{"field":"rot","type":"quantitative","scale":null},
  "text":{"field":"ch"},
  "color":{"field":"g","type":"nominal","legend":null,"scale":{"domain":["s","m","u"],"range":["#1b7a3c","#1f6fc2","#e3141c"]}}}},
{"data":{"name":"panels"},"transform":[{"filter":"datum.row==0 || datum.row==2"}],"mark":{"type":"text","align":"center","baseline":"middle","fontSize":22,"color":"#111111"},
 "encoding":{
  "x":{"field":"col","type":"quantitative","scale":{"domain":[-0.498,2.483],"nice":false,"zero":false},"axis":null},
  "y":{"field":"row","type":"quantitative","scale":{"domain":[-0.6163,3.6373],"nice":false,"zero":false,"reverse":true},"axis":null},
  "theta":{"datum":0,"type":"quantitative","scale":{"domain":[0,14],"range":[0,6.283185307179586]}},
  "radius":{"datum":1.73,"type":"quantitative","scale":{"type":"linear","domain":[0,1],"range":[0,108]}},
  "text":{"field":"name"}}},
{"data":{"name":"panels"},"transform":[{"filter":"datum.row==1"}],"mark":{"type":"text","align":"center","baseline":"middle","fontSize":22,"color":"#111111"},
 "encoding":{
  "x":{"field":"col","type":"quantitative","scale":{"domain":[-0.498,2.483],"nice":false,"zero":false},"axis":null},
  "y":{"field":"row","type":"quantitative","scale":{"domain":[-0.6163,3.6373],"nice":false,"zero":false,"reverse":true},"axis":null},
  "theta":{"datum":0,"type":"quantitative","scale":{"domain":[0,14],"range":[0,6.283185307179586]}},
  "radius":{"datum":1.8,"type":"quantitative","scale":{"type":"linear","domain":[0,1],"range":[0,108]}},
  "text":{"field":"name"}}},
{"data":{"name":"panels"},"transform":[{"filter":"datum.row==3"}],"mark":{"type":"text","align":"center","baseline":"middle","fontSize":22,"color":"#111111"},
 "encoding":{
  "x":{"field":"col","type":"quantitative","scale":{"domain":[-0.498,2.483],"nice":false,"zero":false},"axis":null},
  "y":{"field":"row","type":"quantitative","scale":{"domain":[-0.6163,3.6373],"nice":false,"zero":false,"reverse":true},"axis":null},
  "theta":{"datum":0,"type":"quantitative","scale":{"domain":[0,14],"range":[0,6.283185307179586]}},
  "radius":{"datum":1.63,"type":"quantitative","scale":{"type":"linear","domain":[0,1],"range":[0,108]}},
  "text":{"field":"name"}}}
]
}
